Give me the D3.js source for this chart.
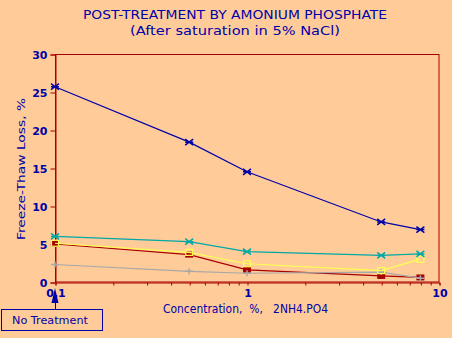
<!DOCTYPE html>
<html><head><meta charset="utf-8">
<script src="https://cdn.jsdelivr.net/npm/d3@7"></script>
<style>body{margin:0;background:#ffcc99;} svg{display:block;}</style>
</head><body>
<script>
const concentrations = [0.1, 0.5, 1, 5, 8];
const blueSeries   = [25.7, 18.4, 14.5, 7.9, 6.9];
const tealSeries   = [6.0, 5.3, 4.0, 3.5, 3.7];
const yellowSeries = [5.1, 3.9, 2.4, 1.5, 3.0];
const redSeries    = [5.0, 3.6, 1.6, 0.8, 0.6];
const graySeries   = [2.3, 1.4, 1.15, 1.3, 0.5];
const yTicks = [0, 5, 10, 15, 20, 25, 30];
const xMajorTicks = [0.1, 1, 10];
const xTickLabels = ["0.1", "1", "10"];
const xMinorTicks = [0.2,0.3,0.4,0.5,0.6,0.7,0.8,0.9,2,3,4,5,6,7,8,9];

const BLUE = "#0000a8", RED = "#a80000", TEAL = "#00a8a8", YEL = "#ffff54", GRAY = "#a8a8a8";
const W = 452, H = 338;
const svg = d3.select("body").append("svg").attr("width", W).attr("height", H);
svg.append("rect").attr("width", W).attr("height", H).attr("fill", "#ffcc99");

const x = d3.scaleLog().domain([0.1, 10]).range([55, 439]);
const y = d3.scaleLinear().domain([0, 30]).range([282, 54]);
const font = "'DejaVu Sans', sans-serif";

// Titles
svg.append("text").attr("x", 235).attr("y", 19).attr("text-anchor", "middle")
  .attr("font-family", font).attr("font-size", 13).attr("fill", BLUE)
  .attr("textLength", 304).attr("lengthAdjust", "spacingAndGlyphs")
  .text("POST-TREATMENT BY AMONIUM PHOSPHATE");
svg.append("text").attr("x", 235).attr("y", 35).attr("text-anchor", "middle")
  .attr("font-family", font).attr("font-size", 13).attr("fill", BLUE)
  .attr("textLength", 210).attr("lengthAdjust", "spacingAndGlyphs")
  .text("(After saturation in 5% NaCl)");

// Frame
svg.append("rect").attr("x", 55.5).attr("y", 54.5).attr("width", 383.5).attr("height", 227.5)
  .attr("fill", "none").attr("stroke", RED).attr("stroke-width", 1);

// Y axis
const yAxis = d3.axisLeft(y).tickValues(yTicks).tickSize(5).tickPadding(3).tickFormat(d3.format("d"));
const gy = svg.append("g").attr("transform", "translate(55.5,0.5)").call(yAxis);
gy.select(".domain").attr("stroke", RED);
gy.selectAll(".tick line").attr("stroke", RED);
gy.selectAll(".tick text").attr("fill", BLUE).attr("font-family", font).attr("font-size", 11).attr("font-weight", "bold");

// X axis
const gx = svg.append("g").attr("transform", "translate(0.5,282.5)")
  .call(d3.axisBottom(x).tickValues(xMajorTicks.concat(xMinorTicks)).tickSize(3)
    .tickFormat(d => { const i = xMajorTicks.indexOf(d); return i >= 0 ? xTickLabels[i] : ""; }).tickPadding(4));
gx.select(".domain").attr("stroke", RED);
gx.selectAll(".tick line").attr("stroke", RED);
gx.selectAll(".tick text").attr("fill", BLUE).attr("font-family", font).attr("font-size", 11).attr("font-weight", "bold");

// Axis titles
svg.append("text").attr("transform", "translate(25,169) rotate(-90)").attr("text-anchor", "middle")
  .attr("font-family", font).attr("font-size", 11).attr("fill", BLUE)
  .attr("textLength", 142).attr("lengthAdjust", "spacingAndGlyphs")
  .text("Freeze-Thaw Loss, %");
svg.append("text").attr("x", 163).attr("y", 313).attr("xml:space", "preserve").style("white-space", "pre")
  .attr("font-family", font).attr("font-size", 12).attr("fill", BLUE)
  .attr("textLength", 165).attr("lengthAdjust", "spacingAndGlyphs")
  .text("Concentration,  %,   2NH4.PO4");

// Series
const line = d3.line().x((d, i) => x(concentrations[i])).y(d => y(d));
function drawLine(data, color) {
  svg.append("path").datum(data).attr("d", line).attr("fill", "none").attr("stroke", color).attr("stroke-width", 1.2);
}
function asterisk(data, color) {
  svg.append("g").selectAll("path").data(data).join("path")
    .attr("transform", (d, i) => `translate(${x(concentrations[i])},${y(d)})`)
    .attr("d", "M-4,-3L4,3M-4,3L4,-3M-4,0L4,0").attr("stroke", color).attr("stroke-width", 1.5).attr("fill", "none");
}
drawLine(redSeries, RED);
svg.append("g").selectAll("rect").data(redSeries).join("rect")
  .attr("x", (d, i) => x(concentrations[i]) - 4).attr("y", d => y(d) - 3)
  .attr("width", 8).attr("height", 6).attr("fill", RED);
drawLine(graySeries, GRAY);
svg.append("g").selectAll("path").data(graySeries).join("path")
  .attr("transform", (d, i) => `translate(${x(concentrations[i])},${y(d)})`)
  .attr("d", "M-4,0L4,0M0,-3L0,3").attr("stroke", GRAY).attr("stroke-width", 1.5);
drawLine(yellowSeries, YEL);
svg.append("g").selectAll("rect").data(yellowSeries).join("rect")
  .attr("x", (d, i) => x(concentrations[i]) - 3.5).attr("y", d => y(d) - 3)
  .attr("width", 7).attr("height", 6).attr("fill", "none").attr("stroke", YEL).attr("stroke-width", 1.2);
drawLine(tealSeries, TEAL);
asterisk(tealSeries, TEAL);
drawLine(blueSeries, BLUE);
asterisk(blueSeries, BLUE);

// Legend pointer
svg.append("path").attr("d", "M55,288L51.5,303L58.5,303Z").attr("fill", BLUE);
svg.append("line").attr("x1", 55.5).attr("x2", 55.5).attr("y1", 303).attr("y2", 309).attr("stroke", BLUE);
svg.append("rect").attr("x", 1.5).attr("y", 309.5).attr("width", 101).attr("height", 21)
  .attr("fill", "none").attr("stroke", BLUE);
svg.append("text").attr("x", 12).attr("y", 324).attr("font-family", font).attr("font-size", 11).attr("fill", BLUE)
  .attr("textLength", 76).attr("lengthAdjust", "spacingAndGlyphs").text("No Treatment");
</script>
</body></html>
